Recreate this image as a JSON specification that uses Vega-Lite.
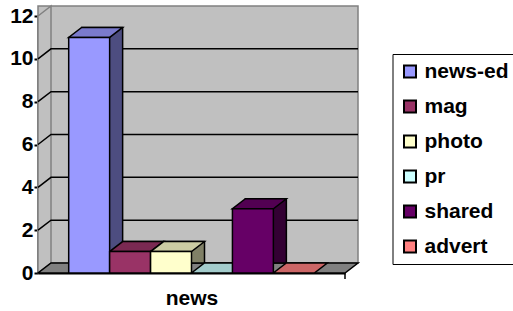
{
  "$schema": "https://vega.github.io/schema/vega-lite/v6.json",
  "autosize": "none",
  "width": 307,
  "height": 257,
  "padding": {"left": 38, "top": 16, "right": 168, "bottom": 38},
  "background": "white",
  "config": {
    "view": {"stroke": null},
    "font": "Liberation Sans",
    "axis": {"labelFontWeight": 700, "titleFontWeight": 700},
    "legend": {"labelFontWeight": 700}
  },
  "data": {"values": [
    {"series": "news-ed", "value": 11},
    {"series": "mag", "value": 1},
    {"series": "photo", "value": 1},
    {"series": "pr", "value": 0},
    {"series": "shared", "value": 3},
    {"series": "advert", "value": 0}
  ]},
  "layer": [
    {
      "data": {"values": [{"wall": "back"}]},
      "mark": {"type": "rect", "fill": "#C0C0C0", "stroke": "#808080", "strokeWidth": 1.5, "xOffset": 13, "x2Offset": 13, "yOffset": -10, "y2Offset": -10},
      "encoding": {
        "y": {"datum": 12, "type": "quantitative", "scale": {"domain": [0, 12], "nice": false}, "title": null},
        "y2": {"datum": 0}
      }
    },
    {
      "data": {"values": [{"wall": "side"}]},
      "mark": {"type": "point", "filled": true, "opacity": 1, "size": 4, "fill": "#C0C0C0", "stroke": "#808080", "strokeWidth": 1.5,
        "shape": "M -153.5 0 L -153.5 -257 L -140.5 -267 L -140.5 -10 Z"},
      "encoding": {
        "y": {"datum": 0, "type": "quantitative", "title": null}
      }
    },
    {
      "data": {"values": [{"wall": "floor"}]},
      "mark": {"type": "point", "filled": true, "opacity": 1, "size": 4, "fill": "#808080", "stroke": "black", "strokeWidth": 1.5,
        "shape": "M -153.5 0 L 153.5 0 L 166.5 -10 L -140.5 -10 Z M 153.5 0 L 153.5 6"},
      "encoding": {
        "y": {"datum": 0, "type": "quantitative", "title": null}
      }
    },
    {
      "data": {"values": [{"v": 2}, {"v": 4}, {"v": 6}, {"v": 8}, {"v": 10}]},
      "mark": {"type": "point", "filled": false, "opacity": 1, "size": 4, "stroke": "black", "strokeWidth": 1.5,
        "shape": "M -153.5 0 L -140.5 -10 L 166.5 -10"},
      "encoding": {
        "y": {"field": "v", "type": "quantitative", "title": null}
      }
    },
    {
      "transform": [{"filter": "datum.value > 0"}],
      "mark": {"type": "bar", "xOffset": 13, "yOffset": -10, "stroke": "black", "strokeWidth": 1.5},
      "encoding": {
        "x": {"field": "series", "type": "nominal", "scale": {"domain": ["news-ed", "mag", "photo", "pr", "shared", "advert"], "paddingInner": 0, "paddingOuter": 0.75}},
        "y": {"field": "value", "type": "quantitative", "title": null},
        "color": {"field": "series", "type": "nominal", "legend": null,
          "scale": {"domain": ["news-ed", "mag", "photo", "pr", "shared", "advert"], "range": ["#4D4D80", "#4D1A33", "#808066", "#668080", "#330033", "#804040"]}}
      }
    },
    {
      "mark": {"type": "point", "filled": true, "opacity": 1, "size": 4, "stroke": "black", "strokeWidth": 1.5,
        "shape": "M -20.5 0 L 20.5 0 L 33.5 -10 L -7.5 -10 Z"},
      "encoding": {
        "x": {"field": "series", "type": "nominal", "scale": {"domain": ["news-ed", "mag", "photo", "pr", "shared", "advert"], "paddingInner": 0, "paddingOuter": 0.75}},
        "y": {"field": "value", "type": "quantitative", "title": null},
        "color": {"field": "series", "type": "nominal", "legend": null,
          "scale": {"domain": ["news-ed", "mag", "photo", "pr", "shared", "advert"], "range": ["#7A7ACC", "#7A2952", "#CCCCA3", "#A3CCCC", "#520052", "#CC6666"]}}
      }
    },
    {
      "transform": [{"filter": "datum.value > 0"}],
      "mark": {"type": "bar", "stroke": "black", "strokeWidth": 1.5},
      "encoding": {
        "x": {"field": "series", "type": "nominal",
          "scale": {"domain": ["news-ed", "mag", "photo", "pr", "shared", "advert"], "paddingInner": 0, "paddingOuter": 0.75},
          "axis": {"title": "news", "labels": false, "ticks": false, "domainColor": "black", "domainWidth": 2,
            "titleFont": "Liberation Sans", "titleFontWeight": 700, "titleFontSize": 21, "titleColor": "black", "titlePadding": 14}},
        "y": {"field": "value", "type": "quantitative", "title": null,
          "axis": {"values": [0, 2, 4, 6, 8, 10, 12], "grid": false, "domainColor": "black", "domainWidth": 2,
            "tickColor": "black", "tickWidth": 2, "tickSize": 4, "labelPadding": 1,
            "labelFont": "Liberation Sans", "labelFontWeight": 700, "labelFontSize": 21, "labelColor": "black"}},
        "color": {"field": "series", "type": "nominal",
          "scale": {"domain": ["news-ed", "mag", "photo", "pr", "shared", "advert"], "range": ["#9999FF", "#993366", "#FFFFCC", "#CCFFFF", "#660066", "#FF8080"]},
          "legend": {"title": null, "orient": "none", "legendX": 354.5, "legendY": 38,
            "strokeColor": "black", "padding": 7,
            "symbolType": "square", "symbolSize": 144, "symbolStrokeColor": "black", "symbolStrokeWidth": 2, "symbolOpacity": 1,
            "labelFont": "Liberation Sans", "labelFontWeight": 700, "labelFontSize": 21, "labelColor": "black",
            "labelOffset": 4, "rowPadding": 13}}
      }
    }
  ],
  "resolve": {"scale": {"color": "independent"}, "legend": {"color": "independent"}}
}
